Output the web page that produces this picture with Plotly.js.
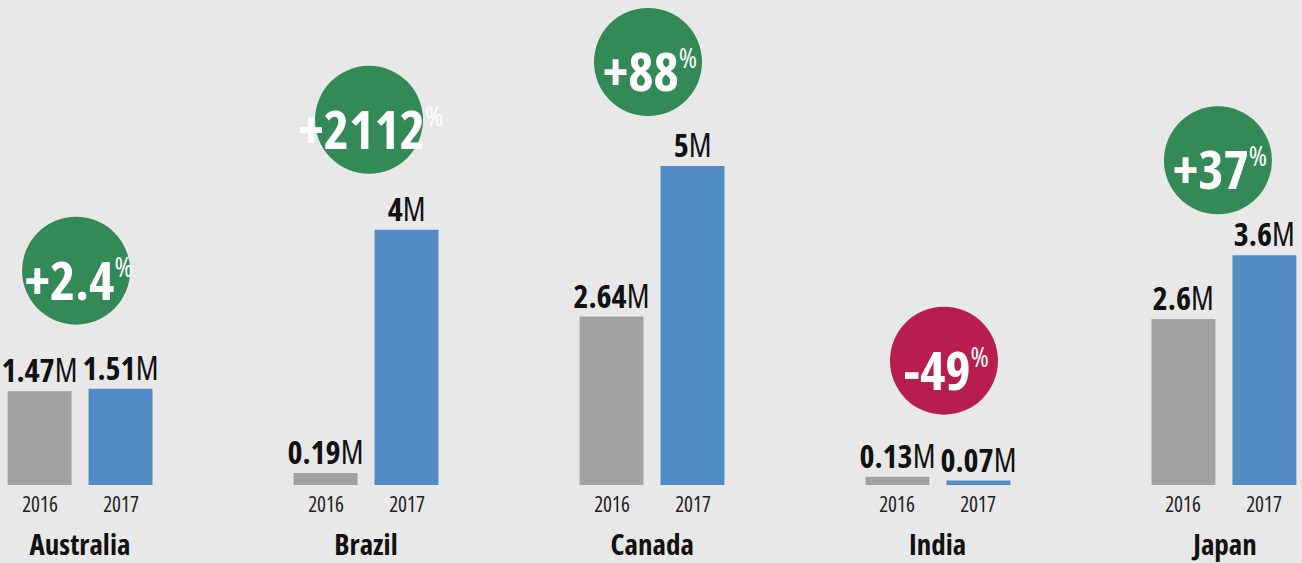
<!DOCTYPE html>
<html><head><meta charset="utf-8">
<script src="https://cdn.plot.ly/plotly-3.0.1.min.js"></script>
<style>
html,body{margin:0;padding:0;background:#e8e8e8;}
#chart{width:1302px;height:563px;}
#chart text, #chart tspan{font-stretch:75%;}
</style>
</head><body><div id="chart"></div>
<script>
const countries = ['Australia', 'Brazil', 'Canada', 'India', 'Japan'];
const years = ['2016', '2017'];
const values2016 = [1.47, 0.19, 2.64, 0.13, 2.6];
const values2017 = [1.51, 4, 5, 0.07, 3.6];
const labels2016 = ['1.47', '0.19', '2.64', '0.13', '2.6'];
const labels2017 = ['1.51', '4', '5', '0.07', '3.6'];
const changes = ['+2.4', '+2112', '+88', '-49', '+37'];

// layout tweaks (pixels)
const badgeLift = [118, 110, 104, 116, 95];
const badgeDx = [-4, 3, -4, 6, -6];

const FONT = '"Open Sans", "Liberation Sans", sans-serif';
const GRAY = '#a2a2a2', BLUE = '#528cc5', GREEN = '#338a57', RED = '#b81e4b';
const BAR_DX = 40.5;

const traces = [
  {type: 'bar', name: years[0], x: countries, y: values2016, marker: {color: GRAY}, hoverinfo: 'skip'},
  {type: 'bar', name: years[1], x: countries, y: values2017, marker: {color: BLUE}, hoverinfo: 'skip'}
];

const shapes = [];
const annotations = [];
countries.forEach((c, i) => {
  const top = Math.max(values2016[i], values2017[i]);
  const neg = changes[i].trim().startsWith('-');
  const r = 54;
  shapes.push({
    type: 'circle', xref: 'x', yref: 'y', xsizemode: 'pixel', ysizemode: 'pixel',
    xanchor: i, yanchor: top,
    x0: badgeDx[i] - r, x1: badgeDx[i] + r,
    y0: badgeLift[i] - r, y1: badgeLift[i] + r,
    fillcolor: neg ? RED : GREEN, line: {width: 0}
  });
  annotations.push({
    x: c, y: top, xref: 'x', yref: 'y', showarrow: false,
    xanchor: 'center', yanchor: 'middle',
    xshift: badgeDx[i] + 2, yshift: badgeLift[i] - 8,
    text: '<b>' + changes[i] + '</b><sup><span style="font-size:28px">%</span></sup>',
    font: {family: FONT, size: 54, color: '#ffffff'}
  });
  [[values2016, labels2016, -BAR_DX], [values2017, labels2017, BAR_DX]].forEach(([vals, labs, dx]) => {
    annotations.push({
      x: c, y: vals[i], xref: 'x', yref: 'y', showarrow: false,
      xanchor: 'center', yanchor: 'bottom', xshift: dx, yshift: -2,
      text: '<b>' + labs[i] + '</b>M',
      font: {family: FONT, size: 32, color: '#111111'}
    });
  });
  years.forEach((yr, k) => {
    annotations.push({
      x: c, y: 0, xref: 'x', yref: 'y', showarrow: false,
      xanchor: 'center', yanchor: 'top', xshift: k ? BAR_DX : -BAR_DX, yshift: -3,
      text: yr, font: {family: FONT, size: 21, color: '#222222'}
    });
  });
  annotations.push({
    x: c, y: 0, xref: 'x', yref: 'y', showarrow: false,
    xanchor: 'center', yanchor: 'top', yshift: -37,
    text: '<b>' + c + '</b>', font: {family: FONT, size: 29, color: '#111111'}
  });
});

const layout = {
  width: 1302, height: 563,
  margin: {l: 0, r: 0, t: 0, b: 78, pad: 0},
  paper_bgcolor: '#e8e8e8', plot_bgcolor: '#e8e8e8',
  barmode: 'group', bargap: 0.434, bargroupgap: 0.21,
  showlegend: false,
  xaxis: {type: 'category', range: [-0.28, 4.273], showticklabels: false, showgrid: false, zeroline: false, showline: false, ticks: ''},
  yaxis: {range: [0, 7.602], showticklabels: false, showgrid: false, zeroline: false, showline: false, ticks: ''},
  shapes: shapes,
  annotations: annotations
};

Plotly.newPlot('chart', traces, layout, {displayModeBar: false, staticPlot: true});
</script>
</body></html>
